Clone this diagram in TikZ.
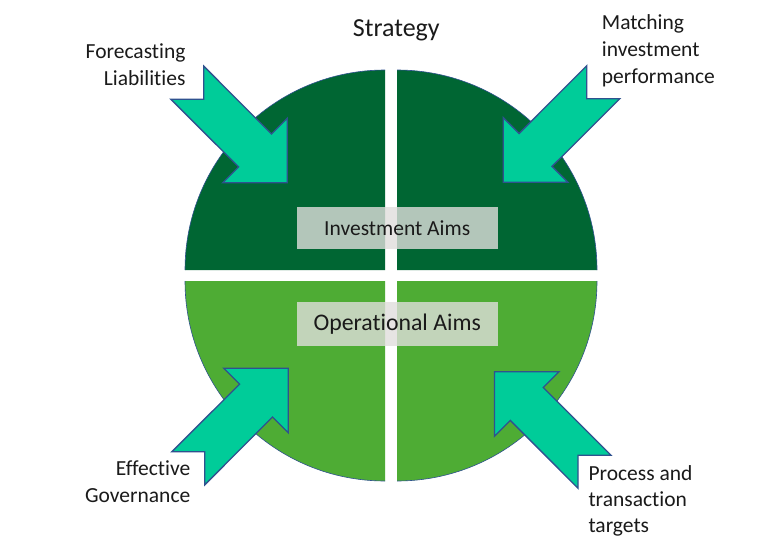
\documentclass[tikz,border=0pt]{standalone}
\usepackage{fontspec}
\setmainfont{Carlito}[Ligatures=NoCommon]
\definecolor{darkgreen}{RGB}{0,102,51}
\definecolor{lightgreen}{RGB}{78,172,52}
\definecolor{arrowfill}{RGB}{0,204,153}
\definecolor{arrowline}{RGB}{47,82,143}
\definecolor{boxfill}{RGB}{224,222,220}
\definecolor{txt}{RGB}{26,26,26}
\begin{document}
\begin{tikzpicture}[x=1pt,y=-1pt,
  rim/.style={draw=arrowline, line width=0.6pt},
  aimbox/.style={fill=boxfill, fill opacity=0.8, text opacity=1, text=txt,
    minimum width=201pt, inner sep=0pt},
  lbl/.style={inner sep=0pt, text=txt, font=\fontsize{21.5}{26}\selectfont},
  pics/inarrow/.style={code={
    \draw[fill=arrowfill, draw=arrowline, line width=1.3pt, line join=miter]
      (0,0) -- (0,-64.5) -- (-15.8,-48.7) -- (-83.5,-116.5) -- (-83.5,-83.5)
      -- (-116.5,-83.5) -- (-48.7,-15.8) -- (-64.5,0) -- cycle;}}
]
\useasboundingbox[fill=white] (0,0) rectangle (765,551);

% quadrants
\fill[darkgreen] (385,270) -- (185,270) arc[start angle=180,end angle=270,radius=200] -- cycle;
\draw[rim] (185,270) arc[start angle=180,end angle=270,radius=200];
\fill[darkgreen] (397,270) -- (397,70) arc[start angle=270,end angle=360,radius=200] -- cycle;
\draw[rim] (397,70) arc[start angle=270,end angle=360,radius=200];
\fill[lightgreen] (385,281) -- (185,281) arc[start angle=180,end angle=90,radius=200] -- cycle;
\draw[rim] (185,281) arc[start angle=180,end angle=90,radius=200];
\fill[lightgreen] (397,281) -- (597,281) arc[start angle=0,end angle=90,radius=200] -- cycle;
\draw[rim] (597,281) arc[start angle=0,end angle=90,radius=200];

% aim boxes
\node[aimbox, minimum height=42pt, font=\fontsize{21.5}{26}\selectfont] (inv) at (397.2,228) {Investment Aims};
\node[aimbox, minimum height=44.3pt, font=\fontsize{23.8}{28}\selectfont] (ops) at (397.2,323.8) {Operational Aims};

% arrows
\pic (tl) at (287.3,182.7) {inarrow};
\pic[xscale=-1] (tr) at (503.3,182.2) {inarrow};
\pic[yscale=-1] (bl) at (288.3,368.3) {inarrow};
\pic[xscale=-1,yscale=-1] (br) at (494.5,371.7) {inarrow};

% title
\node[lbl, font=\fontsize{26}{31}\selectfont, anchor=base] (strategy) at (396.3,36.7) {Strategy};

% labels
\node[lbl, anchor=base east] (fc1) at (185.7,58.3) {Forecasting};
\node[lbl, anchor=base east] (fc2) at (185.7,85) {Liabilities};
\node[lbl, anchor=base west] (mi1) at (601.7,30) {Matching};
\node[lbl, anchor=base west] (mi2) at (601.7,56.7) {investment};
\node[lbl, anchor=base west] (mi3) at (601.7,83.3) {performance};
\node[lbl, anchor=base east] (eg1) at (190.5,475.7) {Effective};
\node[lbl, anchor=base east] (eg2) at (190.5,502.7) {Governance};
\node[lbl, anchor=base west] (pt1) at (588.3,480) {Process and};
\node[lbl, anchor=base west] (pt2) at (588.3,506.5) {transaction};
\node[lbl, anchor=base west] (pt3) at (588.3,532.5) {targets};
\end{tikzpicture}
\end{document}
